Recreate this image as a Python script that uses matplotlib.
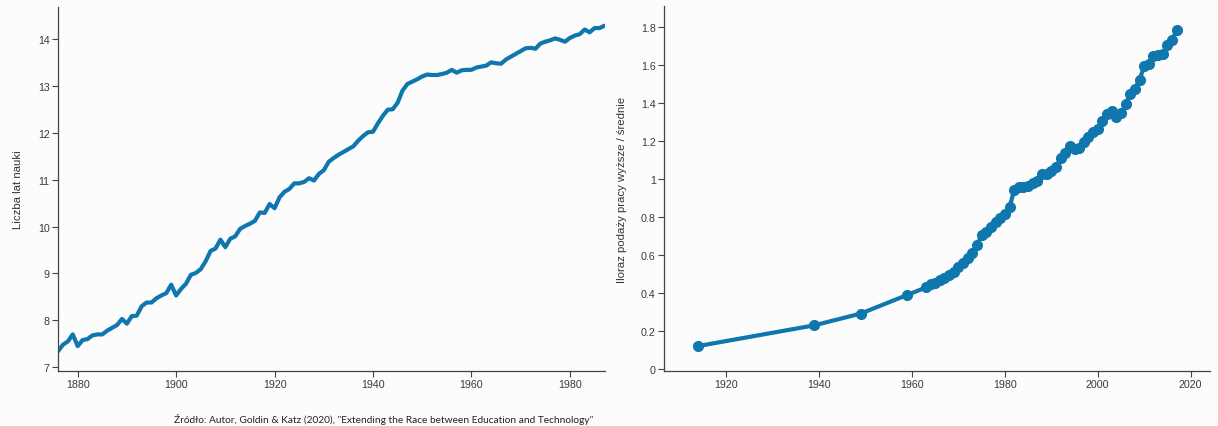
import matplotlib.pyplot as plt
import numpy as np
from matplotlib.ticker import FuncFormatter

# lata nauki wg rocznika urodzenia
years_left = np.arange(1876, 1988)
schooling = [
    7.34, 7.48, 7.55, 7.70, 7.45, 7.58, 7.60, 7.68, 7.70, 7.70,
    7.78, 7.84, 7.90, 8.03, 7.93, 8.09, 8.10, 8.30, 8.38, 8.38,
    8.47, 8.53, 8.58, 8.76, 8.53, 8.67, 8.78, 8.97, 9.01, 9.09,
    9.26, 9.48, 9.53, 9.72, 9.56, 9.74, 9.79, 9.95, 10.01, 10.06,
    10.12, 10.30, 10.29, 10.48, 10.39, 10.62, 10.74, 10.80, 10.92, 10.92,
    10.95, 11.03, 10.98, 11.12, 11.20, 11.38, 11.46, 11.53, 11.59, 11.65,
    11.71, 11.83, 11.93, 12.01, 12.02, 12.20, 12.36, 12.49, 12.50, 12.64,
    12.90, 13.04, 13.09, 13.14, 13.20, 13.24, 13.23, 13.23, 13.25, 13.28,
    13.34, 13.28, 13.33, 13.34, 13.34, 13.39, 13.41, 13.43, 13.50, 13.48,
    13.47, 13.56, 13.62, 13.68, 13.74, 13.80, 13.81, 13.79, 13.90, 13.94,
    13.97, 14.01, 13.98, 13.94, 14.02, 14.07, 14.10, 14.20, 14.14, 14.23,
    14.23, 14.28,
]

# iloraz podazy pracy
years_right = [1914, 1939, 1949, 1959] + list(range(1963, 2018))
supply_ratio = [
    0.121, 0.230, 0.292, 0.390,
    0.429, 0.446, 0.455, 0.470, 0.480, 0.495, 0.510, 0.538, 0.557, 0.585,
    0.613, 0.652, 0.705, 0.722, 0.745, 0.772, 0.794, 0.815, 0.852, 0.940,
    0.956, 0.958, 0.962, 0.978, 0.990, 1.026, 1.028, 1.040, 1.062, 1.110,
    1.137, 1.175, 1.160, 1.162, 1.192, 1.220, 1.248, 1.262, 1.305, 1.340,
    1.360, 1.328, 1.345, 1.392, 1.445, 1.472, 1.522, 1.592, 1.606, 1.645,
    1.654, 1.660, 1.706, 1.730, 1.782,
]

left_xticks = [1880, 1900, 1920, 1940, 1960, 1980]
left_yticks = [7, 8, 9, 10, 11, 12, 13, 14]
right_xticks = [1920, 1940, 1960, 1980, 2000, 2020]
right_yticks = [0, 0.2, 0.4, 0.6, 0.8, 1.0, 1.2, 1.4, 1.6, 1.8]

blue = '#0f77ae'
bg = '#fcfcfc'
plt.rcParams['font.family'] = ['Liberation Sans', 'DejaVu Sans']

fig = plt.figure(figsize=(12.18, 4.27), dpi=100, facecolor=bg)


def style(ax):
    ax.set_facecolor(bg)
    for s in ['top', 'right']:
        ax.spines[s].set_visible(False)
    for s in ['left', 'bottom']:
        ax.spines[s].set_color('#444444')
        ax.spines[s].set_linewidth(0.9)
    ax.tick_params(colors='#444444', labelsize=7.7, length=4, width=0.8,
                   labelcolor='#3a3a3a', pad=2)


ax1 = fig.add_axes([0.0476, 0.1288, 0.449, 0.8525])
style(ax1)
ax1.plot(years_left, schooling, color=blue, linewidth=3, solid_capstyle='round',
         solid_joinstyle='round')
ax1.set_xlim(1876, 1987.1)
ax1.set_ylim(6.92, 14.68)
ax1.set_xticks(left_xticks)
ax1.set_yticks(left_yticks)
ax1.set_ylabel('Liczba lat nauki', fontsize=8.2, color='#333333', labelpad=11)

ax2 = fig.add_axes([0.5452, 0.1288, 0.4483, 0.8548])
style(ax2)
ax2.plot(years_right, supply_ratio, color=blue, linewidth=3, marker='o',
         markersize=7, solid_joinstyle='round')
ax2.set_xlim(1906.6, 2024.2)
ax2.set_ylim(-0.0105, 1.91)
ax2.set_xticks(right_xticks)
ax2.set_yticks(right_yticks)
ax2.yaxis.set_major_formatter(FuncFormatter(lambda v, p: '{:g}'.format(round(v, 1))))
ax2.set_ylabel('Iloraz podaży pracy wyższe / średnie', fontsize=8.2, color='#333333',
               labelpad=10)

fig.text(384 / 1218, 1 - 420 / 427,
         'Źródło: Autor, Goldin & Katz (2020), "Extending the Race between Education and Technology"',
         ha='center', va='center', fontsize=7.3, color='#222222', family=['Lato', 'DejaVu Sans'])

fig.savefig('out.png', dpi=100, facecolor=bg)
